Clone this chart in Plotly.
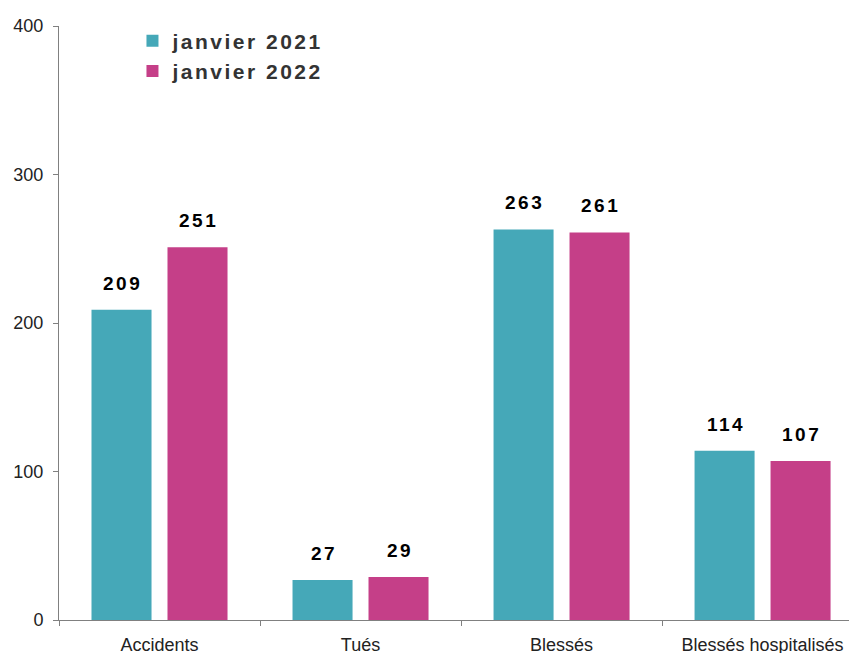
import plotly.graph_objects as go

categories = ["Accidents", "Tués", "Blessés", "Blessés hospitalisés"]
jan_2021 = [209, 27, 263, 114]
jan_2022 = [251, 29, 261, 107]
series_names = ["janvier 2021", "janvier 2022"]
y_ticks = [0, 100, 200, 300, 400]
colors = ["#45A8B8", "#C53F88"]

LS = "letter-spacing:2.5px"

fig = go.Figure()
for name, vals, col in zip(series_names, [jan_2021, jan_2022], colors):
    fig.add_trace(go.Bar(x=categories, y=vals,
                         name=f"<span style='{LS}'>{name}</span>",
                         marker=dict(color=col, line=dict(width=0))))

# value labels above bars
for vals, shift in zip([jan_2021, jan_2022], [-38, 38]):
    for c, v in zip(categories, vals):
        fig.add_annotation(x=c, y=v, text=f"<span style='{LS}'>{v}</span>",
                           showarrow=False, xanchor="center", yanchor="bottom",
                           xshift=shift + 1, yshift=14,
                           font=dict(family="Liberation Sans", size=19, color="#000000", weight="bold"))

fig.update_layout(
    width=849, height=653,
    margin=dict(l=59, r=0, t=26, b=33),
    plot_bgcolor="white", paper_bgcolor="white",
    barmode="group", bargap=0.244, bargroupgap=0.21,
    font=dict(family="Liberation Sans", color="#222222"),
    showlegend=True,
    legend=dict(x=0.093, y=1.009, xanchor="left", yanchor="top",
                font=dict(family="Liberation Sans", size=21, color="#333333", weight="bold"),
                bgcolor="rgba(0,0,0,0)", itemwidth=30, tracegroupgap=4),
)
fig.update_xaxes(range=[-0.5, 3.43], showline=True, linecolor="#808080", linewidth=1,
                 ticks="outside", ticklen=5, tickcolor="#808080", tickson="boundaries",
                 tickfont=dict(size=18, color="#222222"), showgrid=False,
                 automargin=False, ticklabelstandoff=8)
fig.update_yaxes(range=[0, 400], tickvals=y_ticks, showline=True, linecolor="#808080", linewidth=1,
                 ticks="outside", ticklen=5, tickcolor="#808080",
                 tickfont=dict(size=18, color="#222222"), showgrid=False, zeroline=False,
                 automargin=False, ticklabelstandoff=6)

fig.write_html("out.html", config={"displayModeBar": False},
               post_script="document.body.style.margin='0';document.body.style.overflow='hidden';")
